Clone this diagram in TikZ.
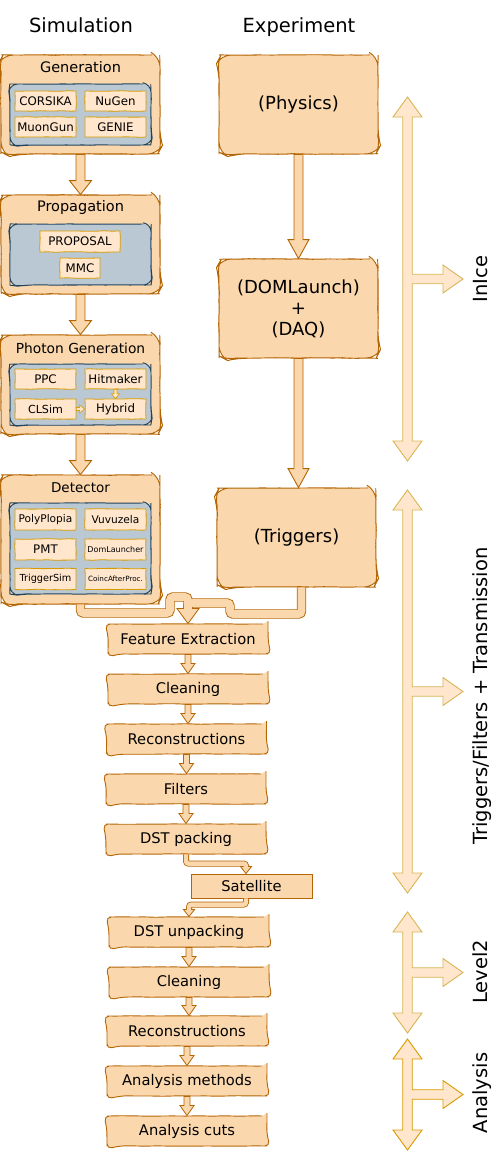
\documentclass[tikz,border=0pt]{standalone}
\usepackage{fontspec}
\setmainfont{DejaVu Sans}
\usetikzlibrary{calc,decorations.pathmorphing}

\definecolor{boxfill}{HTML}{FAD7AC}
\definecolor{boxline}{HTML}{B46504}
\definecolor{bluefill}{HTML}{BAC8D3}
\definecolor{blueline}{HTML}{23445D}
\definecolor{subfill}{HTML}{FFE6CC}
\definecolor{subline}{HTML}{D79B00}
\definecolor{spanline}{HTML}{D6B656}

\newcommand\pxfont[1]{\fontsize{#1}{#1}\selectfont}
% straight block arrows between two nodes
\newcommand\blockdown[6][]{\draw[#1] let \p1=(#2.south), \p2=(#3.north) in
  (\x1-#4pt,\y1) -- (\x1-#4pt,\y2+#6pt) -- (\x1-#5pt,\y2+#6pt) -- (\x1,\y2)
  -- (\x1+#5pt,\y2+#6pt) -- (\x1+#4pt,\y2+#6pt) -- (\x1+#4pt,\y1) -- cycle;}
\newcommand\blockright[6][]{\draw[#1] let \p1=(#2.east), \p2=(#3.west) in
  (\x1,\y1+#4pt) -- (\x2-#6pt,\y1+#4pt) -- (\x2-#6pt,\y1+#5pt) -- (\x2,\y1)
  -- (\x2-#6pt,\y1-#5pt) -- (\x2-#6pt,\y1-#4pt) -- (\x1,\y1-#4pt) -- cycle;}
\newcommand\pipetip[4]{\draw[#1] ($(#2)+(-#3,-#4)$) -- (#2) -- ($(#2)+(#3,-#4)$) -- cycle;}
% double headed span arrow with a side branch
\newcommand\spanarrow[4]{\pgfmathsetmacro\spanmid{(#3+#4)/2}
  \draw[#1] (#2,#3) -- (#2+14.5,#3+20) -- (#2+4.75,#3+20) -- (#2+4.75,\spanmid-4.75)
  -- (#2+35.5,\spanmid-4.75) -- (#2+35.5,\spanmid-14) -- (#2+55.5,\spanmid)
  -- (#2+35.5,\spanmid+14) -- (#2+35.5,\spanmid+4.75) -- (#2+4.75,\spanmid+4.75)
  -- (#2+4.75,#4-20) -- (#2+14.5,#4-20) -- (#2,#4) -- (#2-14.5,#4-20)
  -- (#2-4.75,#4-20) -- (#2-4.75,#3+20) -- (#2-14.5,#3+20) -- cycle;}

\tikzset{
  sketch/.style={decorate, decoration={random steps, segment length=8pt, amplitude=0.3pt}},
  title/.style={font=\pxfont{19.5}, anchor=base},
  stage/.style={sketch, rounded corners=10pt, draw=boxline, fill=boxfill, line width=0.9pt,
    minimum width=159pt, minimum height=99pt, inner sep=0pt},
  stagetitle/.style={font=\pxfont{14.5}},
  toolbox/.style={sketch, rounded corners=8pt, draw=blueline, fill=bluefill, line width=0.9pt,
    minimum width=141pt, minimum height=61pt, inner sep=0pt},
  tool/.style={sketch, draw=subline, fill=subfill, line width=0.8pt, minimum width=61pt,
    minimum height=20pt, inner sep=0pt, font=\pxfont{11.8}},
  expbox/.style={stage, align=center, font=\fontsize{18}{21}\selectfont},
  chainbox/.style={sketch, rounded corners=5pt, draw=boxline, fill=boxfill, line width=0.9pt,
    minimum width=160pt, minimum height=30pt, inner sep=0pt, font=\pxfont{14.7}},
  bigarrow/.style={draw=boxline, fill=boxfill, line width=0.9pt},
  smallarrow/.style={draw=boxline, fill=boxfill, line width=0.8pt},
  subarrow/.style={draw=subline, fill=subfill, line width=0.6pt},
  pipeouter/.style={line width=9.4pt, draw=boxline, rounded corners=3pt},
  pipeinner/.style={line width=7.6pt, draw=boxfill, rounded corners=3pt},
  thinouter/.style={line width=6pt, draw=boxline, rounded corners=2.5pt},
  thininner/.style={line width=4.4pt, draw=boxfill, rounded corners=2.5pt},
  spanstyle/.style={draw=spanline, fill=subfill, line width=0.9pt},
  spanlabel/.style={rotate=90, anchor=base, inner sep=0pt, font=\pxfont{19.5}},
}

\begin{document}
\begin{tikzpicture}[x=1pt,y=-1pt]
  \useasboundingbox (0,0) rectangle (492,1151);

  \node[title] (sim) at (81,32) {Simulation};
  \node[title] (exp) at (299,32) {Experiment};

  %%% simulation column
  \node[stage] (gen) at (80.5,104.5) {};
  \node[stagetitle] (gentitle) at ($(gen.north)+(0,12.5)$) {Generation};
  \node[toolbox] (genbox) at (80.5,114.5) {};
  \node[tool] (corsika) at (45.5,101) {CORSIKA};
  \node[tool] (nugen) at (115.5,101) {NuGen};
  \node[tool] (muongun) at (45.5,127) {MuonGun};
  \node[tool] (genie) at (115.5,127) {GENIE};

  \node[stage] (prop) at (80.5,244.5) {};
  \node[stagetitle] (proptitle) at ($(prop.north)+(0,12.5)$) {Propagation};
  \node[toolbox] (propbox) at (80.5,254.5) {};
  \node[tool, minimum width=80pt, minimum height=21pt] (proposal) at (80,241.5) {PROPOSAL};
  \node[tool, minimum width=40pt] (mmc) at (80,268) {MMC};

  \node[stage] (phot) at (80.5,384.5) {};
  \node[stagetitle, font=\pxfont{13.8}] (phottitle) at ($(phot.north)+(0,13.5)$) {Photon Generation};
  \node[toolbox] (photbox) at (80.5,394.5) {};
  \node[tool] (ppc) at (45.5,379) {PPC};
  \node[tool] (hitmaker) at (115.5,379) {Hitmaker};
  \node[tool, font=\pxfont{11.1}] (clsim) at (45.5,409) {CLSim};
  \node[tool] (hybrid) at (115.5,409) {Hybrid};
  \blockdown[subarrow]{hitmaker}{hybrid}{1.5}{4}{5}
  \blockright[subarrow]{clsim}{hybrid}{1.5}{4}{5}

  \node[stage, minimum height=129pt] (det) at (80.5,539.5) {};
  \node[stagetitle, font=\pxfont{13.5}] (dettitle) at ($(det.north)+(0,13)$) {Detector};
  \node[toolbox, minimum height=91pt] (detbox) at (80.5,548.5) {};
  \node[tool, minimum height=21pt, font=\pxfont{10.6}] (polyplopia) at (45.5,519.5) {PolyPlopia};
  \node[tool, minimum height=21pt, font=\pxfont{10.6}] (vuvuzela) at (115.5,519.5) {Vuvuzela};
  \node[tool, minimum height=21pt] (pmt) at (45.5,549.5) {PMT};
  \node[tool, minimum height=21pt, font=\pxfont{8}] (domlauncher) at (115.5,549.5) {DomLauncher};
  \node[tool, minimum height=21pt, font=\pxfont{9.7}] (triggersim) at (45.5,579) {TriggerSim};
  \node[tool, minimum height=21pt, font=\pxfont{7.2}] (coinc) at (115.5,579) {CoincAfterProc.};

  \blockdown[bigarrow]{gen}{prop}{4.5}{11}{14}
  \blockdown[bigarrow]{prop}{phot}{4.5}{11}{14}
  \blockdown[bigarrow]{phot}{det}{4.5}{11}{14}

  %%% experiment column
  \node[expbox] (phys) at (298.5,104.5) {(Physics)};
  \node[expbox] (daq) at (298.5,308.5) {(DOMLaunch)\\+\\(DAQ)};
  \node[expbox] (trig) at (296.5,537.5) {(Triggers)};
  \blockdown[bigarrow]{phys}{daq}{4.5}{10.5}{19}
  \blockdown[bigarrow]{daq}{trig}{4.5}{10.5}{19}

  %%% processing chain
  \node[chainbox] (fe) at (188,639) {Feature Extraction};
  \node[chainbox] (clean) at (188,689) {Cleaning};
  \node[chainbox] (reco) at (186.5,739) {Reconstructions};
  \node[chainbox] (filt) at (186,789) {Filters};
  \node[chainbox] (dstp) at (186,839) {DST packing};
  \node[draw=boxline, fill=boxfill, line width=0.9pt, minimum width=121pt, minimum height=24pt,
    inner sep=0pt, font=\pxfont{14.7}] (sat) at (251.5,886) {Satellite};
  \node[chainbox] (dstu) at (189,932) {DST unpacking};
  \node[chainbox] (cleantwo) at (189,982) {Cleaning};
  \node[chainbox] (recotwo) at (187,1031) {Reconstructions};
  \node[chainbox] (anameth) at (187,1081) {Analysis methods};
  \node[chainbox] (anacuts) at (187,1131) {Analysis cuts};

  \blockdown[smallarrow]{fe}{clean}{3}{7}{10}
  \blockdown[smallarrow]{clean}{reco}{3}{7}{10}
  \blockdown[smallarrow]{reco}{filt}{3}{7}{10}
  \blockdown[smallarrow]{filt}{dstp}{3}{7}{10}
  \blockdown[smallarrow]{dstu}{cleantwo}{3}{7}{10}
  \blockdown[smallarrow]{cleantwo}{recotwo}{3}{7}{10}
  \blockdown[smallarrow]{recotwo}{anameth}{3}{7}{10}
  \blockdown[smallarrow]{anameth}{anacuts}{3}{7}{10}

  % detector and triggers into feature extraction
  \coordinate (trigout) at ($(trig.south)+(5,0)$);
  \draw[pipeouter] (det.south) |- (170,613) |- (188,597) -- ($(fe.north)+(0,-13)$);
  \draw[pipeouter] (trigout) |- (230,614) |- (188,603) -- ($(fe.north)+(0,-13)$);
  \pipetip{smallarrow}{fe.north}{11}{15}
  \draw[pipeinner] (det.south) |- (170,613) |- (188,597) -- ($(fe.north)+(0,-14)$);
  \draw[pipeinner] (trigout) |- (230,614) |- (188,603) -- ($(fe.north)+(0,-14)$);

  % transmission through the satellite
  \coordinate (satin) at ($(sat.north)+(-5.5,0)$);
  \coordinate (satout) at ($(sat.south)+(-5.5,0)$);
  \draw[thinouter] (dstp.south) |- ($(satin)+(0,-10)$) -- ($(satin)+(0,-6)$);
  \draw[thinouter] (satout) |- ($(dstu.north)+(0,-12)$) -- ($(dstu.north)+(0,-6)$);
  \pipetip{smallarrow}{satin}{5.5}{7}
  \pipetip{smallarrow}{dstu.north}{5.5}{7}
  \draw[thininner] (dstp.south) |- ($(satin)+(0,-10)$) -- ($(satin)+(0,-6.5)$);
  \draw[thininner] (satout) |- ($(dstu.north)+(0,-12)$) -- ($(dstu.north)+(0,-6.5)$);

  %%% spans on the right
  \spanarrow{spanstyle}{407.5}{97}{461}
  \spanarrow{spanstyle}{407.5}{490}{893}
  \spanarrow{spanstyle}{407.5}{912}{1033}
  \spanarrow{spanstyle, draw=subline}{407.5}{1039}{1150}
  \node[spanlabel] (inice) at (487,279) {InIce};
  \node[spanlabel] (transm) at (487,696) {Triggers/Filters + Transmission};
  \node[spanlabel] (level) at (487,972) {Level2};
  \node[spanlabel] (analysis) at (487,1093) {Analysis};
\end{tikzpicture}
\end{document}
